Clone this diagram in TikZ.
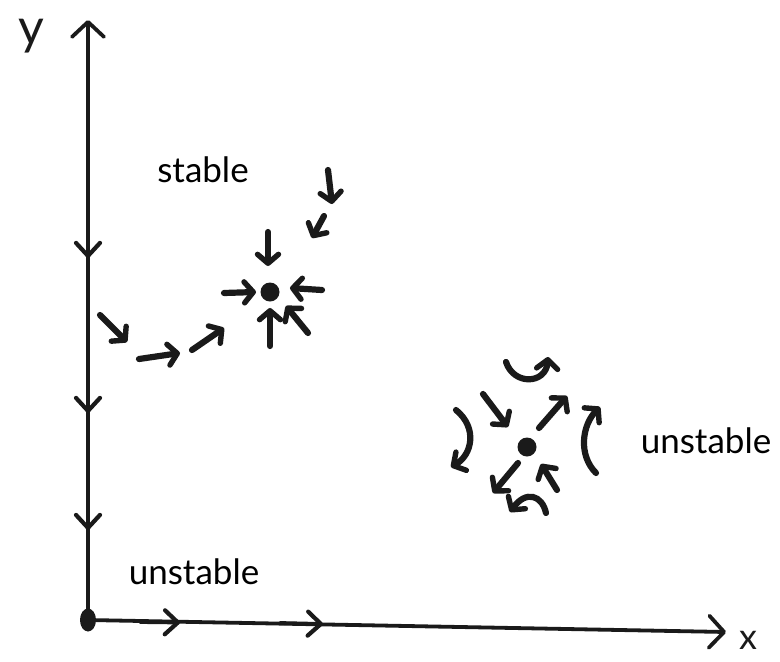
\documentclass[tikz,border=0pt]{standalone}
\usepackage{fontspec}
\setmainfont{Lato}
\usetikzlibrary{arrows.meta,shapes.geometric}
\definecolor{ink}{HTML}{1A1A1A}
\tikzset{
  axtip/.style={draw=ink, line width=3.8pt, line cap=round,
    -{Straight Barb[length=15pt,width=32pt,line width=3.8pt,round]}},
  midtip/.style={draw=ink, line width=3.8pt, line cap=round,
    -{Straight Barb[length=13pt,width=24pt,line width=4.2pt,round]}},
  flow/.style={draw=ink, line width=6.2pt, line cap=round,
    -{Straight Barb[length=9pt,width=21pt,line width=5.4pt,round]}},
  lbl/.style={font=\fontsize{35}{40}\selectfont, text=black, inner sep=0pt},
  hand/.style={font=\fontsize{50}{54}\selectfont, text=ink, inner sep=0pt},
  fixpt/.style={circle, fill=ink, inner sep=0pt, minimum size=19pt}
}
\begin{document}
\begin{tikzpicture}[x=1pt,y=-1pt]
\useasboundingbox (0,0) rectangle (780,662);
% axes
\coordinate (ytop) at (88,20);
\coordinate (xend) at (726,632);
\node[fill=ink, ellipse, inner sep=0pt, minimum width=16pt, minimum height=23pt, draw=none] (O) at (88,620) {};
\draw[axtip] (O.center) -- (ytop);
\draw[axtip] (O.center) -- (xend);
% arrows along y axis
\coordinate (ya1) at (88,228); \coordinate (yb1) at (88,258);
\coordinate (ya2) at (88,383); \coordinate (yb2) at (88,413);
\coordinate (ya3) at (88,500); \coordinate (yb3) at (88,530);
\draw[midtip] (ya1) -- (yb1);
\draw[midtip] (ya2) -- (yb2);
\draw[midtip] (ya3) -- (yb3);
% arrows along x axis
\coordinate (xa1) at (140,622); \coordinate (xb1) at (180,622.5);
\coordinate (xa2) at (280,623); \coordinate (xb2) at (323,624);
\draw[midtip] (xa1) -- (xb1);
\draw[midtip] (xa2) -- (xb2);
% axis labels
\node[hand] (ylab) at (31,36) {y};
\node[hand, font=\fontsize{36}{40}\selectfont] (xlab) at (748,640) {x};
% stable point
\node[fixpt] (S) at (270,292) {};
\coordinate (s1a) at (224,293); \coordinate (s1b) at (256,292);
\coordinate (s2a) at (322,290); \coordinate (s2b) at (290,288);
\coordinate (s3a) at (268,232); \coordinate (s3b) at (268,266);
\coordinate (s4a) at (270,346); \coordinate (s4b) at (270,308);
\coordinate (s5a) at (308,333); \coordinate (s5b) at (286,306);
\draw[flow] (s1a) -- (s1b);
\draw[flow] (s2a) -- (s2b);
\draw[flow] (s3a) -- (s3b);
\draw[flow] (s4a) -- (s4b);
\draw[flow] (s5a) -- (s5b);
\coordinate (p1a) at (328,170); \coordinate (p1b) at (332,204);
\coordinate (p2a) at (324,216); \coordinate (p2b) at (312,238);
\coordinate (p3a) at (100,315); \coordinate (p3b) at (127,342);
\coordinate (p4a) at (139,359); \coordinate (p4b) at (180,353);
\coordinate (p5a) at (192,350); \coordinate (p5b) at (224,328);
\draw[flow] (p1a) -- (p1b);
\draw[flow] (p2a) -- (p2b);
\draw[flow] (p3a) -- (p3b);
\draw[flow] (p4a) -- (p4b);
\draw[flow] (p5a) -- (p5b);
% unstable point
\node[fixpt] (U) at (527,447) {};
\coordinate (u1a) at (483,394); \coordinate (u1b) at (508,427);
\coordinate (u2a) at (557,490); \coordinate (u2b) at (541,464);
\coordinate (u3a) at (539,428); \coordinate (u3b) at (567,396);
\coordinate (u4a) at (518,463); \coordinate (u4b) at (493,493);
\draw[flow] (u1a) -- (u1b);
\draw[flow] (u2a) -- (u2b);
\draw[flow] (u3a) -- (u3b);
\draw[flow] (u4a) -- (u4b);
\coordinate (c1a) at (506,362); \coordinate (c1b) at (548,357);
\coordinate (c2a) at (456,410); \coordinate (c2b) at (451,467);
\coordinate (c3a) at (596,473); \coordinate (c3b) at (600,407);
\coordinate (c4a) at (546,513); \coordinate (c4b) at (510,512);
\draw[flow] (c1a) .. controls (514,386) and (546,384) .. (c1b);
\draw[flow] (c2a) .. controls (478,428) and (472,455) .. (c2b);
\draw[flow] (c3a) .. controls (578,455) and (582,425) .. (c3b);
\draw[flow] (c4a) .. controls (542,495) and (526,490) .. (c4b);
% labels
\node[lbl] (st) at (203,170) {stable};
\node[lbl] (un1) at (194,572) {unstable};
\node[lbl] (un2) at (706,441) {unstable};
\end{tikzpicture}
\end{document}
